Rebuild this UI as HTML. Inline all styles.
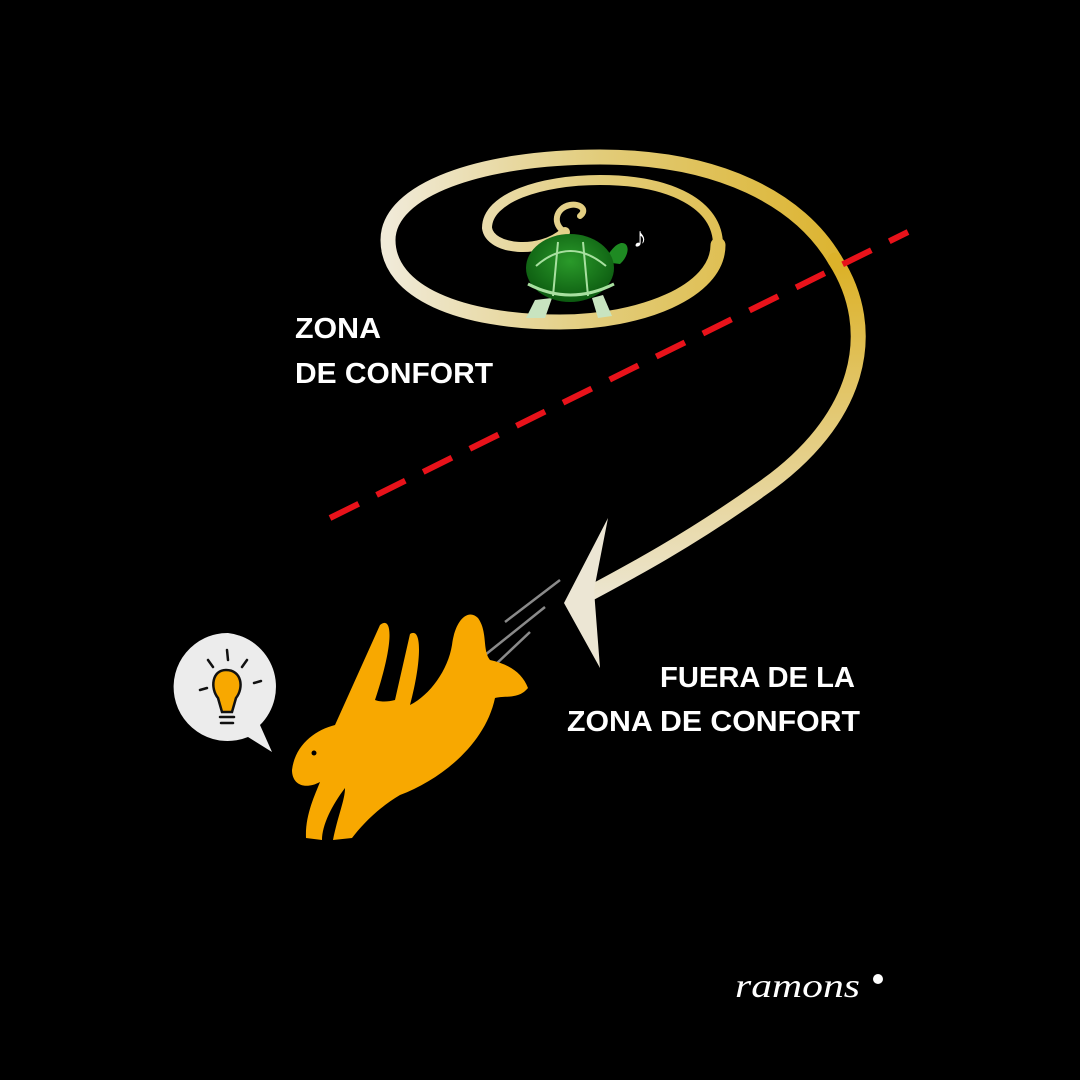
<!DOCTYPE html>
<html><head><meta charset="utf-8"><style>
html,body{margin:0;padding:0;background:#000;width:1080px;height:1080px;overflow:hidden}
svg{display:block}
text{font-family:"Liberation Sans",sans-serif;fill:#fff;font-weight:bold}
</style></head><body>
<svg width="1080" height="1080" viewBox="0 0 1080 1080">
<defs>
<linearGradient id="g" x1="388" y1="0" x2="860" y2="0" gradientUnits="userSpaceOnUse">
<stop offset="0" stop-color="#f0ead8"/><stop offset="0.45" stop-color="#e2cc7a"/><stop offset="1" stop-color="#dcb22a"/>
</linearGradient>
<linearGradient id="t" x1="0" y1="270" x2="0" y2="600" gradientUnits="userSpaceOnUse">
<stop offset="0" stop-color="#dcb22a"/><stop offset="1" stop-color="#ece6d2"/>
</linearGradient>
<radialGradient id="sh" cx="0.5" cy="0.4" r="0.6"><stop offset="0" stop-color="#2a9a2a"/><stop offset="1" stop-color="#0c5a10"/></radialGradient>
</defs>
<rect width="1080" height="1080" fill="#000"/>
<g fill="none" stroke="url(#g)" stroke-linecap="round">
<path d="M580 216 C588 210 580 203 570 205 C555 208 552 225 565 232" stroke-width="6"/>
<path d="M565 232 C540 255 490 250 487 228 C487 198 540 180 600 180 C672 180 718 205 718 245" stroke-width="10"/>
<path d="M718 245 C718 292 640 322 560 322 C460 322 388 292 388 240 C388 190 480 157 600 157 C720 157 800 200 835 260" stroke-width="15"/>
</g>
<path d="M835 260 C880 330 862 420 760 490 C690 540 630 572 585 596" fill="none" stroke="url(#t)" stroke-width="15" stroke-linecap="round"/>
<polygon points="564,603 608,518 594,590 600,668" fill="#ece6d4"/>
<line x1="330" y1="518" x2="908" y2="232" stroke="#e8121a" stroke-width="6" stroke-dasharray="32,20"/>
<!-- turtle -->
<g>
<path d="M535 300 L526 318 L545 318 L552 298 Z" fill="#c8e4c0"/>
<path d="M592 298 L598 318 L612 316 L603 295 Z" fill="#c8e4c0"/>
<path d="M603 262 C610 252 614 245 621 243 C630 242 630 255 620 264 Z" fill="#1e8a22"/>
<ellipse cx="570" cy="268" rx="44" ry="34" fill="url(#sh)"/>
<path d="M536 266 Q570 236 606 266 M558 242 L553 296 M583 242 L588 296" stroke="#a8e0a0" stroke-width="2" fill="none"/>
<path d="M528 284 Q570 306 614 284" stroke="#a8e0a0" stroke-width="3" fill="none"/>
</g>
<text x="633" y="247" font-size="28" style="font-weight:normal">♪</text>
<!-- labels -->
<text x="295" y="338" font-size="29" textLength="86" lengthAdjust="spacingAndGlyphs">ZONA</text>
<text x="295" y="383" font-size="29" textLength="198" lengthAdjust="spacingAndGlyphs">DE CONFORT</text>
<text x="660" y="687" font-size="29" textLength="195" lengthAdjust="spacingAndGlyphs">FUERA DE LA</text>
<text x="567" y="731" font-size="29" textLength="293" lengthAdjust="spacingAndGlyphs">ZONA DE CONFORT</text>
<!-- speed lines -->
<g stroke="#8a8a8a" stroke-width="2.5">
<line x1="505" y1="622" x2="560" y2="580"/><line x1="485" y1="655" x2="545" y2="607"/><line x1="495" y1="665" x2="530" y2="632"/>
</g>
<!-- rabbit -->
<path d="M292 770 C295 745 315 730 335 725 L380 625 C392 615 395 640 375 700 C380 702 388 702 395 700 L410 634 C422 626 422 660 410 705 C430 695 448 670 452 645 C455 620 468 608 478 618 C488 632 482 650 490 660 C508 664 522 672 528 688 C518 700 505 695 495 698 C485 745 440 780 400 795 C378 808 362 825 352 838 L333 840 C338 815 345 800 345 788 C332 805 322 825 322 840 L306 838 C305 815 315 795 320 782 C305 790 292 785 292 770 Z" fill="#f8a800"/>
<circle cx="314" cy="753" r="2.5" fill="#000"/>
<!-- bubble -->
<path d="M228 633 A54 54 0 1 0 248 737 L272 752 L260 725 A54 54 0 0 0 228 633 Z" fill="#ececec"/>
<path d="M226 670 C212 670 210 688 218 698 L222 712 L232 712 L236 698 C244 688 242 670 226 670 Z" fill="#f8a800" stroke="#111" stroke-width="2.5"/>
<g stroke="#111" stroke-width="2.5" stroke-linecap="round">
<line x1="220" y1="717" x2="234" y2="717"/><line x1="221" y1="723" x2="233" y2="723"/>
<line x1="227" y1="650" x2="228" y2="660"/><line x1="208" y1="660" x2="213" y2="667"/><line x1="247" y1="660" x2="242" y2="667"/>
<line x1="200" y1="690" x2="207" y2="688"/><line x1="254" y1="683" x2="261" y2="681"/>
</g>
<!-- signature -->
<text x="735" y="997" font-size="34" style="font-family:'Liberation Serif',serif;font-style:italic;font-weight:normal" textLength="125" lengthAdjust="spacingAndGlyphs">ramons</text>
<circle cx="878" cy="979" r="5" fill="#fff"/>
</svg>
</body></html>
